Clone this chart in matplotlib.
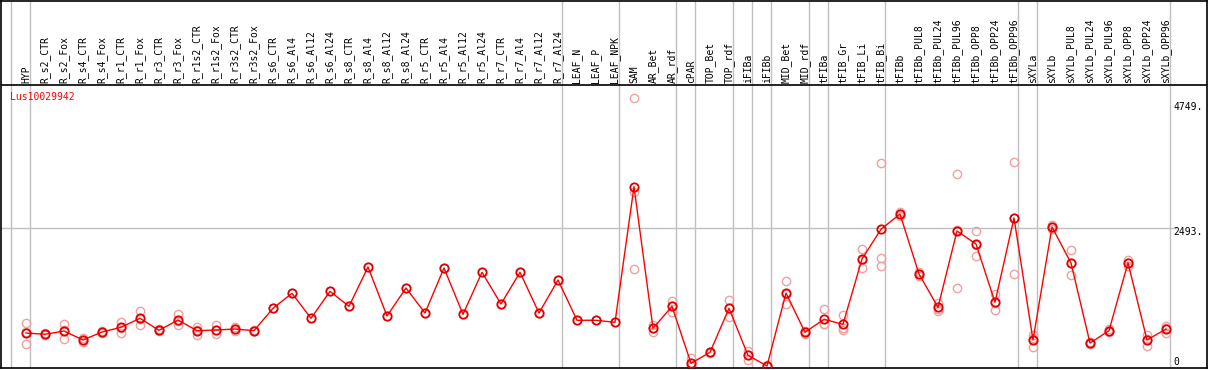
import numpy as np
import matplotlib
matplotlib.use("Agg")
import matplotlib.pyplot as plt

# Sample names (column headers)
samples = ["HYP", "R_s2_CTR", "R_s2_Fox", "R_s4_CTR", "R_s4_Fox", "R_r1_CTR", "R_r1_Fox",
           "R_r3_CTR", "R_r3_Fox", "R_r1s2_CTR", "R_r1s2_Fox", "R_r3s2_CTR", "R_r3s2_Fox",
           "R_s6_CTR", "R_s6_Al4", "R_s6_Al12", "R_s6_Al24", "R_s8_CTR", "R_s8_Al4",
           "R_s8_Al12", "R_s8_Al24", "R_r5_CTR", "R_r5_Al4", "R_r5_Al12", "R_r5_Al24",
           "R_r7_CTR", "R_r7_Al4", "R_r7_Al12", "R_r7_Al24", "LEAF_N", "LEAF_P", "LEAF_NPK",
           "SAM", "AR_Bet", "AR_rdf", "cPAR", "TOP_Bet", "TOP_rdf", "iFIBa", "iFIBb",
           "MID_Bet", "MID_rdf", "tFIBa", "tFIB_Gr", "tFIB_Li", "tFIB_Bi", "tFIBb",
           "tFIBb_PUL8", "tFIBb_PUL24", "tFIBb_PUL96", "tFIBb_OPP8", "tFIBb_OPP24",
           "tFIBb_OPP96", "sXYLa", "sXYLb", "sXYLb_PUL8", "sXYLb_PUL24", "sXYLb_PUL96",
           "sXYLb_OPP8", "sXYLb_OPP24", "sXYLb_OPP96"]

# Mean expression per sample
means = [596, 573, 632, 470, 614, 699, 862, 645, 831, 638, 650, 668, 638,
         1042, 1313, 862, 1349, 1078, 1788, 903, 1409, 957, 1770, 934, 1693,
         1120, 1693, 957, 1554, 826, 826, 789,
         3239, 681, 1077, 49, 247, 1042, 193, 0, 1318, 609, 844, 753, 1933, 2470,
         2746, 1662, 1060, 2439, 2204, 1151, 2674,
         470, 2511, 1861, 415, 638, 1866, 470, 668]

# Replicate values per sample
replicates = [[777, 614, 397], [590, 573, 556], [759, 649, 488], [500, 470, 440],
              [640, 614, 590], [800, 695, 602], [994, 857, 735], [660, 645, 630],
              [939, 819, 735], [699, 655, 560], [735, 642, 573], [710, 662, 632],
              [650, 638, 626],
              [1042], [1313], [862], [1349], [1078], [1788], [903], [1409], [957],
              [1770], [934], [1693], [1120], [1693], [957], [1554], [826], [826], [789],
              [4836, 3140, 1760], [690, 733, 620], [1174, 1077, 981], [139, 10, 0],
              [260, 247, 234], [1192, 1054, 880], [276, 195, 108], [10, 0, 0],
              [1536, 1303, 1115], [640, 609, 580], [1030, 753, 750], [921, 690, 650],
              [2114, 1920, 1765], [3662, 1946, 1812], [2780, 2746, 2712],
              [1700, 1662, 1624], [1144, 1037, 999], [3463, 2450, 1404],
              [2439, 2186, 1987], [1295, 1146, 1012], [3685, 2680, 1657],
              [560, 501, 349], [2540, 2511, 2482], [2090, 1854, 1639], [430, 415, 400],
              [660, 638, 616], [1920, 1866, 1812], [560, 489, 361], [728, 685, 591]]

# group separators: drawn after these column indices
group_ends = [-1, 0, 28, 31, 34, 35, 37, 38, 39, 41, 42, 45, 52, 53, 60]

ytick_vals = [0, 2493, 4749]
ytick_labels = ["0", "2493.", "4749."]
gene = "Lus10029942"

W, H = 1209, 370
fig = plt.figure(figsize=(W / 100, H / 100), dpi=100)
ax = fig.add_axes([1 / W, 2 / H, 1206 / W, 367 / H])

# pixel <-> data helpers (column k sits at 26 + 19k px, value 0 at 366 px)
px_per_col = 19.0
px_per_val = 138.0 / 2493.0
def colx(px):
    return (px - 26) / px_per_col
def valy(py):
    return (366 - py) / px_per_val

ax.set_xlim(colx(1), colx(1207))
ax.set_ylim(valy(368), valy(1))
ax.set_xticks([])
ax.set_yticks([])
for s in ax.spines.values():
    s.set_color("black")
    s.set_linewidth(1.2)

mono = "DejaVu Sans Mono"
grey = "#c0c0c0"

# header divider and grid line
ax.axhline(valy(85), color="black", lw=1.2, zorder=3)
ax.axhline(ytick_vals[1], color=grey, lw=1, xmax=(1176 - 1) / 1206, zorder=0)
for g in group_ends:
    ax.axvline(g + 4 / px_per_col, color=grey, lw=1, zorder=0)

x = np.arange(len(samples))
for i, name in enumerate(samples):
    ax.text(i, valy(83), name, rotation=90, ha="center", va="bottom",
            fontsize=7, family=mono, color="black")

# replicates
for i, reps in enumerate(replicates):
    ax.plot([i] * len(reps), reps, linestyle="none", marker="o", ms=6,
            mfc="none", mec="#f0a0a0", mew=1.0, zorder=2)

# mean line
ax.plot(x, means, color="red", lw=1, zorder=3)
ax.plot(x, means, linestyle="none", marker="o", ms=6, mfc="none",
        mec="#e00000", mew=1.3, zorder=4)

ax.text(colx(10), valy(97), gene, color="red", fontsize=7, family=mono,
        ha="left", va="center")

for v, lab in zip(ytick_vals, ytick_labels):
    dy = 4 if v == 0 else -4
    ax.annotate(lab, (colx(1173), v), xytext=(0, dy), textcoords="offset pixels",
                ha="left", va="center", fontsize=7, family=mono)

fig.savefig("out.png", dpi=100)
